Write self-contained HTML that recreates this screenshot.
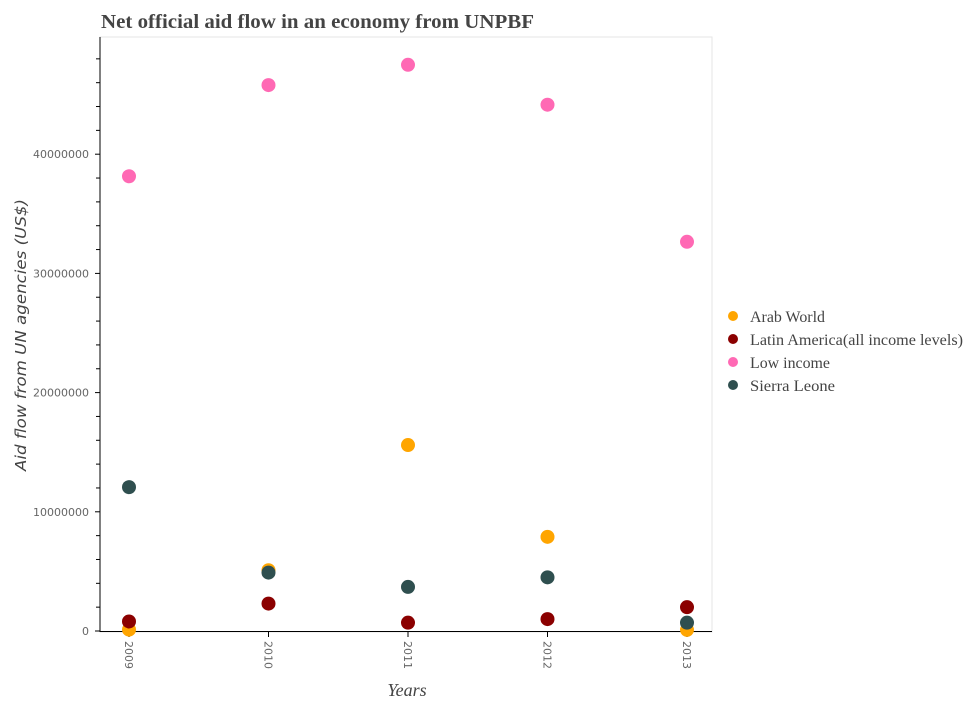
<!DOCTYPE html>
<html><head><meta charset="utf-8"><style>
body{margin:0;background:#fff;}
svg text{font-family:"Liberation Serif",serif;}
</style></head><body>
<svg id="chart" width="964" height="700" xmlns="http://www.w3.org/2000/svg">
<text x="101" y="28" font-size="20" font-weight="bold" fill="#444" textLength="433" lengthAdjust="spacingAndGlyphs">Net official aid flow in an economy from UNPBF</text>
<rect x="100" y="37" width="612" height="595" fill="none" stroke="#e6e6e6"/>
<g id="axes"></g>
<g id="marks"></g>
<text transform="translate(26,335) rotate(-90)" text-anchor="middle" font-size="15" font-style="italic" fill="#444" style="font-family:'DejaVu Sans',sans-serif" textLength="272" lengthAdjust="spacingAndGlyphs">Aid flow from UN agencies (US$)</text>
<text x="407" y="696" text-anchor="middle" font-size="18" font-style="italic" fill="#444">Years</text>
<g id="legend"></g>
</svg>
<script>
const years=["2009","2010","2011","2012","2013"];
const seriesNames=["Arab World","Latin America(all income levels)","Low income","Sierra Leone"];
const arabWorld=[120000,5100000,15600000,7900000,100000];
const latinAmerica=[800000,2300000,700000,1000000,2000000];
const lowIncome=[38150000,45800000,47500000,44150000,32650000];
const sierraLeone=[12070000,4900000,3700000,4500000,700000];
const yTicks=[0,10000000,20000000,30000000,40000000];
const yTickLabels=["0","10000000","20000000","30000000","40000000"];
const colors=["#FFA500","#8B0000","#FF69B4","#2F4F4F"];
const NS="http://www.w3.org/2000/svg";
const x0=129,dx=139.5,yZero=631;
function xs(i){return x0+i*dx;}
function ys(v){return yZero-v*(119.2/10000000);}
function mk(t,a){const e=document.createElementNS(NS,t);for(const k in a)e.setAttribute(k,a[k]);return e;}
const axes=document.getElementById('axes');
let l=mk('line',{x1:100,y1:37,x2:100,y2:632,stroke:'#000'});
axes.appendChild(l);
l=mk('line',{x1:100,y1:631.5,x2:712,y2:631.5,stroke:'#000'});
axes.appendChild(l);
for(let v=0;v<=48000000;v+=2000000){const t=mk('line',{x1:v%10000000===0?95:96,y1:ys(v),x2:100,y2:ys(v),stroke:'#000'});
axes.appendChild(t);}
yTicks.forEach((v,i)=>{const t=mk('text',{x:89,y:ys(v)+4,'text-anchor':'end','font-size':'11',fill:'#666',style:"font-family:'DejaVu Sans',sans-serif"});t.textContent=yTickLabels[i];
axes.appendChild(t);});
years.forEach((y,i)=>{const t=mk('line',{x1:xs(i),y1:632,x2:xs(i),y2:637,stroke:'#000'});
axes.appendChild(t);
const s=mk('text',{transform:'translate('+(xs(i)-4)+',641) rotate(90)','font-size':'11',fill:'#666',style:"font-family:'DejaVu Sans',sans-serif"});s.textContent=y;
axes.appendChild(s);});
const marks=document.getElementById('marks');
[arabWorld,latinAmerica,lowIncome,sierraLeone].forEach((arr,si)=>{arr.forEach((v,i)=>{
const c=mk('circle',{cx:xs(i),cy:ys(v),r:7,fill:colors[si]});


marks.appendChild(c);});});
const lg=document.getElementById('legend');
const lens=[75,213,80,85];
seriesNames.forEach((n,i)=>{const yy=316+i*23;
const c=mk('circle',{cx:733,cy:yy,r:5,fill:colors[i]});
lg.appendChild(c);
const t=mk('text',{x:750,y:yy+6,'font-size':'16',fill:'#444',textLength:lens[i],lengthAdjust:'spacingAndGlyphs'});t.textContent=n;
lg.appendChild(t);});
</script>
</body></html>
